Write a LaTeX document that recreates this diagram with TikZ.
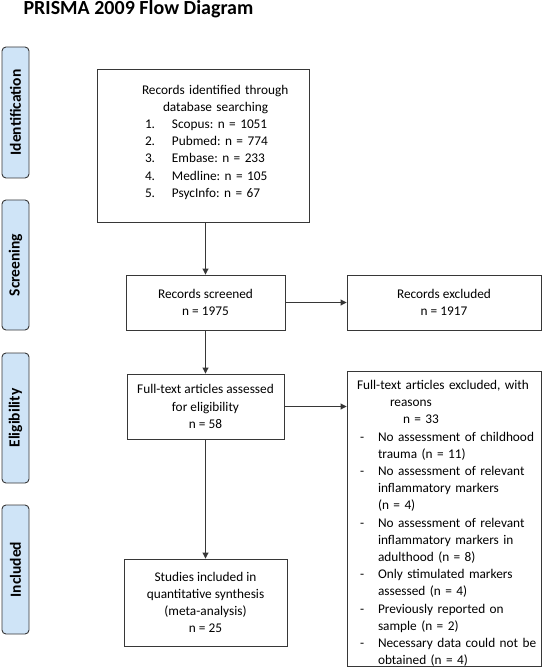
\documentclass[tikz,border=0pt]{standalone}
\usepackage{fontspec}
\setmainfont{Carlito}
\usetikzlibrary{arrows.meta}
\definecolor{phaseblue}{RGB}{207,228,247}
\definecolor{linegray}{RGB}{55,55,55}
\frenchspacing

\begin{document}
\begin{tikzpicture}[x=1pt, y=-1pt, >={Triangle[length=6pt,width=6pt]},
    every node/.style={font=\fontsize{13.3}{17.2}\selectfont},
    box/.style={draw=linegray, line width=0.9pt, inner sep=0pt, align=center},
    phase/.style={draw=linegray, fill=phaseblue, line width=0.9pt, rounded corners=4pt,
      rotate=90, minimum height=27pt, inner sep=0pt, font=\fontsize{15.5}{17}\selectfont\bfseries}]
    \useasboundingbox (0,0) rectangle (543,668);
    \node[anchor=base west, font=\fontsize{20}{23}\selectfont\bfseries] (title) at (20,15) {PRISMA 2009 Flow Diagram};

    % phase labels
    \node[phase, minimum width=131pt] (pident) at (15.5,112.5) {Identification};
    \node[phase, minimum width=130pt] (pscreen) at (15.5,265) {Screening};
    \node[phase, minimum width=130pt] (pelig) at (15.5,418) {Eligibility};
    \node[phase, minimum width=129pt] (pincl) at (15.5,569.5) {Included};

    % flow boxes
    \node[box, text width=212pt, minimum height=153pt, align=left] (ident) at (203,145.5) {%
      \hspace*{45pt}Records identified through\\
      \hspace*{66pt}database searching\\
      \hspace*{48pt}\rlap{1.}\hspace*{27pt}Scopus: n = 1051\\
      \hspace*{48pt}\rlap{2.}\hspace*{27pt}Pubmed: n = 774\\
      \hspace*{48pt}\rlap{3.}\hspace*{27pt}Embase: n = 233\\
      \hspace*{48pt}\rlap{4.}\hspace*{27pt}Medline: n = 105\\
      \hspace*{48pt}\rlap{5.}\hspace*{27pt}PsycInfo: n = 67\rule[-9pt]{0pt}{9pt}};
    \node[box, minimum width=159pt, minimum height=55pt] (screened) at (205.5,302.5) {Records screened\\n = 1975};
    \node[box, minimum width=194pt, minimum height=55pt] (excluded) at (444,302.5) {Records excluded\\n = 1917};
    \node[box, minimum width=157pt, minimum height=65pt] (fulltext) at (205.5,406.5) {Full-text articles assessed\\for eligibility\\n = 58};
    \node[box, text width=194pt, minimum height=290pt, align=left] (fullexcl) at (444,519) {%
      \rule{0pt}{18pt}\hspace*{10pt}Full-text articles excluded, with\\
      \hspace*{43pt}reasons\\
      \hspace*{56pt}n = 33\\
      \hspace*{13pt}\rlap{-}\hspace*{18pt}No assessment of childhood\\
      \hspace*{31pt}trauma (n = 11)\\
      \hspace*{13pt}\rlap{-}\hspace*{18pt}No assessment of relevant\\
      \hspace*{31pt}inflammatory markers\\
      \hspace*{31pt}(n = 4)\\
      \hspace*{13pt}\rlap{-}\hspace*{18pt}No assessment of relevant\\
      \hspace*{31pt}inflammatory markers in\\
      \hspace*{31pt}adulthood (n = 8)\\
      \hspace*{13pt}\rlap{-}\hspace*{18pt}Only stimulated markers\\
      \hspace*{31pt}assessed (n = 4)\\
      \hspace*{13pt}\rlap{-}\hspace*{18pt}Previously reported on\\
      \hspace*{31pt}sample (n = 2)\\
      \hspace*{13pt}\rlap{-}\hspace*{18pt}Necessary data could not be\\
      \hspace*{31pt}obtained (n = 4)};
    \node[box, minimum width=163pt, minimum height=87pt] (included) at (205.5,602.5) {Studies included in\\quantitative synthesis\\(meta-analysis)\\n = 25};

    % connectors
    \draw[->, draw=linegray, line width=0.9pt] (ident.south -| screened.north) -- (screened.north);
    \draw[->, draw=linegray, line width=0.9pt] (screened) -- (excluded);
    \draw[->, draw=linegray, line width=0.9pt] (screened) -- (fulltext);
    \draw[->, draw=linegray, line width=0.9pt] (fulltext.east) -- (fulltext.east -| fullexcl.west);
    \draw[->, draw=linegray, line width=0.9pt] (fulltext) -- (included);
\end{tikzpicture}
\end{document}
